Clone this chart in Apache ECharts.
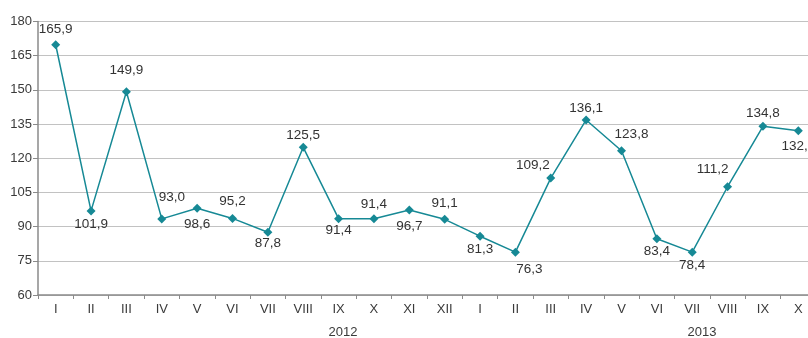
<!DOCTYPE html>
<html>
<head>
<meta charset="utf-8">
<script src="https://cdn.jsdelivr.net/npm/echarts@6/dist/echarts.min.js"></script>
<style>
  html, body { margin: 0; padding: 0; background: #fff; }
  #chart { width: 808px; height: 338px; }
</style>
</head>
<body>
<div id="chart"></div>
<script>
// месяцы 2012 и 2013
var months = ['I', 'II', 'III', 'IV', 'V', 'VI', 'VII', 'VIII', 'IX', 'X', 'XI', 'XII',
              'I', 'II', 'III', 'IV', 'V', 'VI', 'VII', 'VIII', 'IX', 'X'];
// высота точек, как нарисовано
var values = [169.8, 96.9, 149.2, 93.4, 98.1, 93.6, 87.5, 124.8, 93.5, 93.5, 97.3, 93.2,
              85.8, 78.8, 111.3, 136.8, 123.3, 84.7, 78.8, 107.5, 134.0, 132.1];
// подписи у точек
var valueLabels = ['165,9', '101,9', '149,9', '93,0', '98,6', '95,2', '87,8', '125,5', '91,4', '91,4', '96,7', '91,1',
                   '81,3', '76,3', '109,2', '136,1', '123,8', '83,4', '78,4', '111,2', '134,8', '132,1'];
var years = ['2012', '2013'];
var yTicks = [60, 75, 90, 105, 120, 135, 150, 165, 180];

// смещения подписей относительно точек
var labelShift = [[0, -15], [0, 13], [0, -21], [10, -22], [0, 16], [0, -17], [0, 11], [0, -12],
                  [0, 12], [0, -14], [0, 16], [0, -16], [0, 13], [14, 17], [-18, -13], [0, -12],
                  [10, -16], [0, 13], [0, 13], [-15, -17], [0, -13], [0, 16]];

var font = '"Liberation Sans", Arial, sans-serif';
var chart = echarts.init(document.getElementById('chart'));

var data = values.map(function (v, i) {
    return {
        value: v,
        label: {
            show: true,
            position: 'inside',
            offset: labelShift[i],
            formatter: valueLabels[i]
        }
    };
});

var option = {
    animation: false,
    // график обрезан справа, поэтому сетка шире окна
    grid: { left: 38, right: -8, top: 21.5, bottom: 43, containLabel: false, outerBoundsMode: 'none' },
    xAxis: {
        type: 'category',
        data: months,
        boundaryGap: true,
        axisLine: { lineStyle: { color: '#8a8a8a', width: 1.5 } },
        axisTick: { show: true, length: 4, lineStyle: { color: '#8a8a8a' } },
        axisLabel: { color: '#3a3a3a', fontSize: 13, fontFamily: font, margin: 8, interval: 0 }
    },
    yAxis: {
        type: 'value',
        min: yTicks[0],
        max: yTicks[yTicks.length - 1],
        interval: 15,
        axisLine: { show: true, lineStyle: { color: '#8a8a8a', width: 1.5 } },
        axisTick: { show: true, length: 5, lineStyle: { color: '#8a8a8a' } },
        axisLabel: { color: '#3a3a3a', fontSize: 13, fontFamily: font, margin: 6 },
        splitLine: { lineStyle: { color: '#c2c2c2', width: 1.2 } }
    },
    series: [{
        type: 'line',
        data: data,
        symbol: 'diamond',
        symbolSize: 9,
        lineStyle: { color: '#168995', width: 1.5 },
        itemStyle: { color: '#168995' },
        label: {
            color: '#333',
            fontSize: 13.5,
            fontFamily: font,
            align: 'center',
            verticalAlign: 'middle'
        }
    }],
    graphic: [
        { type: 'text', x: 343, y: 332, style: { text: years[0], fill: '#3a3a3a', font: '13px ' + font, textAlign: 'center', textVerticalAlign: 'middle' } },
        { type: 'text', x: 702, y: 332, style: { text: years[1], fill: '#3a3a3a', font: '13px ' + font, textAlign: 'center', textVerticalAlign: 'middle' } }
    ]
};

chart.setOption(option);
</script>
</body>
</html>
